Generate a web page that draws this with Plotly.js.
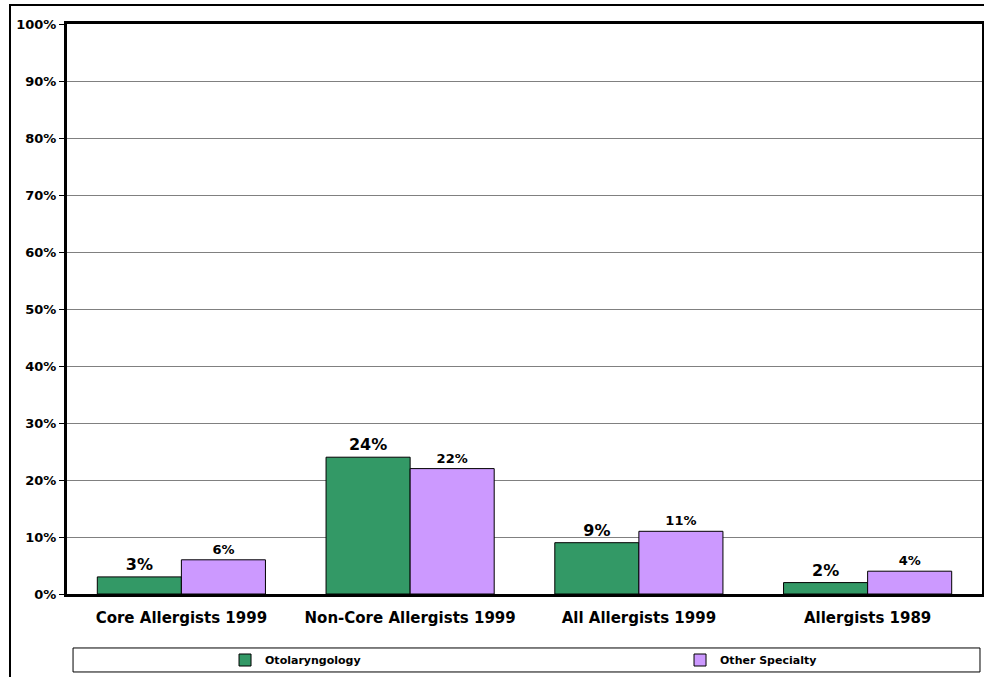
<!DOCTYPE html>
<html>
<head>
<meta charset="utf-8">
<script src="https://cdn.plot.ly/plotly-3.0.1.min.js"></script>
<style>
  html, body { margin: 0; padding: 0; background: #fff; overflow: hidden; }
  #frame { position: absolute; left: 9px; top: 4px; width: 1000px; height: 700px; border: 2px solid #000; box-sizing: border-box; }
  #chart { position: absolute; left: 0; top: 0; width: 984px; height: 677px; }
</style>
</head>
<body>
<div id="frame"></div>
<div id="chart"></div>
<script>
const categories = ["Core Allergists 1999", "Non-Core Allergists 1999", "All Allergists 1999", "Allergists 1989"];
const otolaryngology = [3, 24, 9, 2];
const otherSpecialty = [6, 22, 11, 4];
const yTickVals = [0, 10, 20, 30, 40, 50, 60, 70, 80, 90, 100];
const yTickText = ["0%", "10%", "20%", "30%", "40%", "50%", "60%", "70%", "80%", "90%", "100%"];

const FONT = "'DejaVu Sans', Verdana, sans-serif";

const traces = [
  {
    type: "bar", name: "<b>Otolaryngology</b>", x: categories, y: otolaryngology,
    marker: { color: "#339966", line: { color: "#000", width: 1 } },
    text: otolaryngology.map(v => "<b>" + v + "%</b>"), textposition: "outside",
    textfont: { family: FONT, size: 16, color: "#000" }, cliponaxis: false, hoverinfo: "none"
  },
  {
    type: "bar", name: "<b>Other Specialty</b>", x: categories, y: otherSpecialty,
    marker: { color: "#CC99FF", line: { color: "#000", width: 1 } },
    text: otherSpecialty.map(v => "<b>" + v + "%</b>"), textposition: "outside",
    textfont: { family: FONT, size: 13, color: "#000" }, cliponaxis: false, hoverinfo: "none"
  }
];

const layout = {
  width: 984, height: 677,
  margin: { l: 67, r: 2, t: 24, b: 83, autoexpand: false },
  paper_bgcolor: "rgba(0,0,0,0)", plot_bgcolor: "#fff",
  font: { family: FONT, color: "#000" },
  barmode: "group", bargap: 0.265, bargroupgap: 0,
  showlegend: true,
  xaxis: {
    type: "category",
    tickvals: categories,
    ticktext: categories.map(c => "<b>" + c + "</b>"),
    tickfont: { family: FONT, size: 15, color: "#000" },
    showline: true, linecolor: "#000", linewidth: 3, mirror: true,
    ticks: "", ticklabelstandoff: 8, fixedrange: true, automargin: false
  },
  yaxis: {
    range: [0, 100],
    tickvals: yTickVals,
    ticktext: yTickText.map(t => "<b>" + t + "</b>"),
    tickfont: { family: FONT, size: 13, color: "#000" },
    showgrid: true, gridcolor: "#808080", gridwidth: 1,
    showline: true, linecolor: "#000", linewidth: 3, mirror: true,
    ticks: "outside", ticklen: 5, tickcolor: "#000", tickwidth: 1,
    zeroline: false, fixedrange: true, automargin: false
  },
  legend: {
    orientation: "h",
    x: 0.1727, xanchor: "left",
    y: -0.1158, yanchor: "middle",
    bgcolor: "rgba(0,0,0,0)", borderwidth: 0,
    font: { family: FONT, size: 11, color: "#000" },
    entrywidth: 410, entrywidthmode: "pixels",
    itemclick: false, itemdoubleclick: false
  },
  shapes: [
    { type: "rect", xref: "paper", yref: "paper",
      x0: 0.0066, x1: 0.9978, y0: -0.1368, y1: -0.0947,
      line: { color: "#000", width: 1 }, fillcolor: "rgba(0,0,0,0)", layer: "below" }
  ]
};

Plotly.newPlot("chart", traces, layout, { displayModeBar: false, staticPlot: true });
</script>
</body>
</html>
